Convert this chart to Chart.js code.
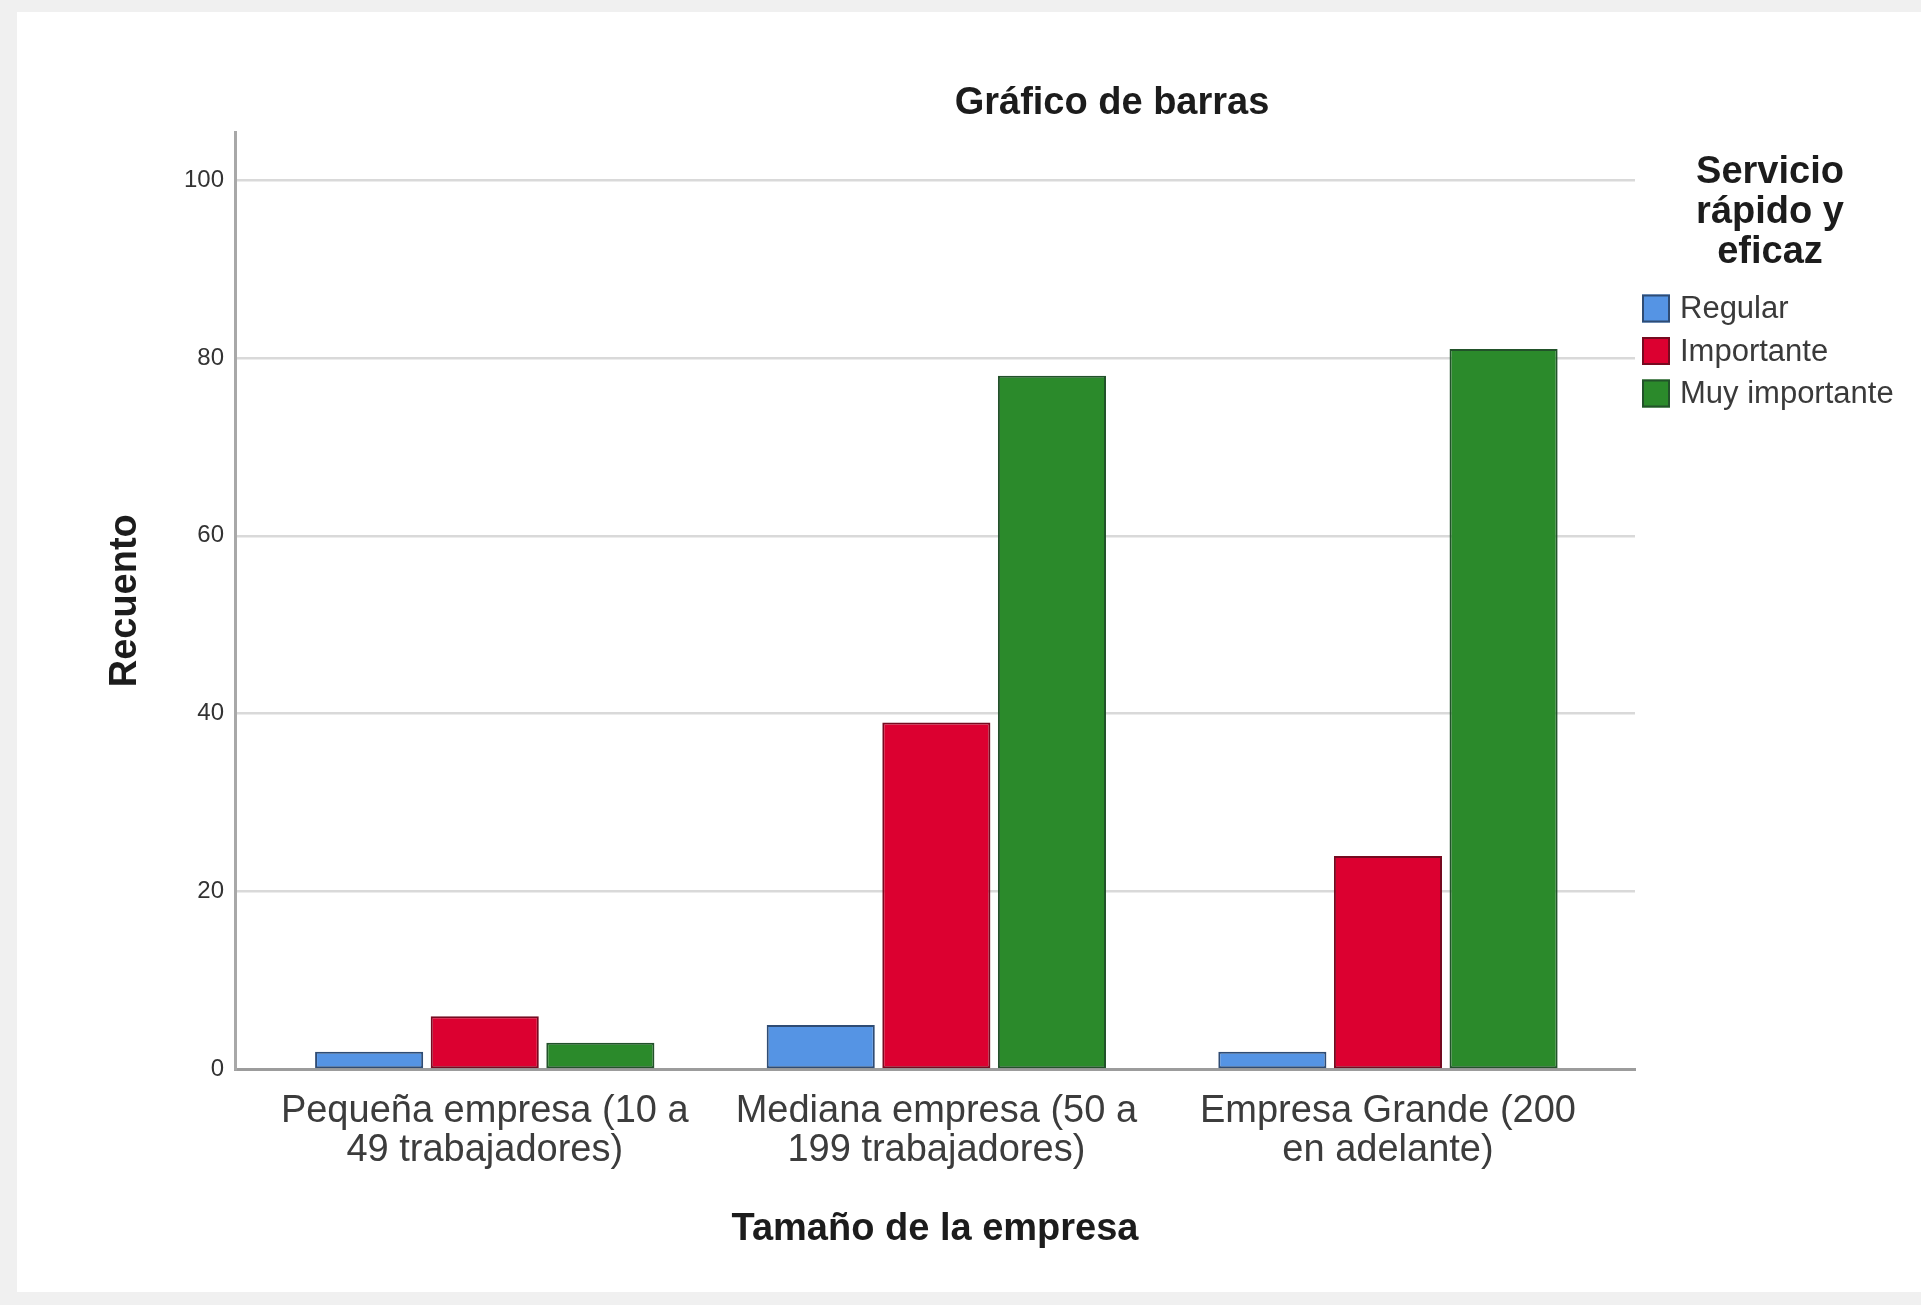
<!DOCTYPE html>
<html lang="es">
<head>
<meta charset="UTF-8">
<title>Gráfico de barras</title>
<script src="https://cdn.jsdelivr.net/npm/chart.js@4.4.1/dist/chart.umd.min.js"></script>
<style>
    html, body { margin: 0; padding: 0; background: #f0f0f0; }
    #contenedor { position: relative; width: 1921px; height: 1305px; }
</style>
</head>
<body>
<div id="contenedor">
    <canvas id="grafico-barras" width="1921" height="1305"></canvas>
</div>
<script>
// Categorías del eje X (tamaño de la empresa), en dos líneas
const categorias = [
    ['Pequeña empresa (10 a', '49 trabajadores)'],
    ['Mediana empresa (50 a', '199 trabajadores)'],
    ['Empresa Grande (200', 'en adelante)']
];

// Recuento por respuesta de "Servicio rápido y eficaz"
const series = ['Regular', 'Importante', 'Muy importante'];
const regular = [2, 5, 2];
const importante = [6, 39, 24];
const muyImportante = [3, 78, 81];

// Marcas del eje Y
const ticksY = [0, 20, 40, 60, 80, 100];

const fuente = "'Liberation Sans', Arial, sans-serif";
const colores = ['#5594e4', '#dc0030', '#2b8a2b'];
const bordes = ['#2f4c74', '#760a20', '#22522a'];

// Construir los datasets a partir de los arrays
const valores = [regular, importante, muyImportante];
const datasets = series.map(function (nombre, s) {
    return {
        label: nombre,
        data: valores[s].map((v, i) => ({ x: i, y: v })),
        backgroundColor: colores[s],
        borderColor: bordes[s],
        borderWidth: 2,
        borderSkipped: false,
        categoryPercentage: 0.768,
        barPercentage: 0.935
    };
});

// Fondo gris con el panel blanco
const pluginFondo = {
    id: 'fondo',
    beforeDraw(chart) {
        const ctx = chart.ctx;
        ctx.save();
        ctx.fillStyle = '#f0f0f0';
        ctx.fillRect(0, 0, chart.width, chart.height);
        ctx.fillStyle = '#ffffff';
        ctx.fillRect(17, 12, chart.width - 17, 1280);
        ctx.restore();
    }
};

// Título del gráfico y leyenda con su título de tres líneas
const pluginTextos = {
    id: 'textos',
    afterDraw(chart) {
        const ctx = chart.ctx;
        ctx.save();
        ctx.textAlign = 'center';
        ctx.textBaseline = 'middle';
        ctx.fillStyle = '#1c1c1c';
        ctx.font = 'bold 38px ' + fuente;
        ctx.fillText('Gráfico de barras', 1112, 104);

        const tituloLeyenda = ['Servicio', 'rápido y', 'eficaz'];
        tituloLeyenda.forEach((linea, i) => ctx.fillText(linea, 1770, 173 + i * 40));

        ctx.textAlign = 'left';
        ctx.font = '31px ' + fuente;
        chart.data.datasets.forEach(function (ds, i) {
            const yc = 308.5 + i * 42.5;
            ctx.fillStyle = ds.backgroundColor;
            ctx.fillRect(1642, yc - 14, 28, 28);
            ctx.strokeStyle = ds.borderColor;
            ctx.lineWidth = 2;
            ctx.strokeRect(1643, yc - 13, 26, 26);
            ctx.fillStyle = '#3a3a3a';
            ctx.fillText(ds.label, 1680, yc + 1);
        });
        ctx.restore();
    }
};

new Chart(document.getElementById('grafico-barras').getContext('2d'), {
    type: 'bar',
    data: { datasets: datasets },
    plugins: [pluginFondo, pluginTextos],
    options: {
        responsive: false,
        animation: false,
        events: [],
        layout: { padding: { left: 0, top: 132, right: 286, bottom: 13 } },
        plugins: {
            legend: { display: false },
            title: { display: false },
            tooltip: { enabled: false }
        },
        scales: {
            x: {
                type: 'linear',
                offset: false,
                min: -0.553,
                max: 2.547,
                afterBuildTicks: function (eje) {
                    eje.ticks = categorias.map((c, i) => ({ value: i }));
                },
                afterFit: function (eje) { eje.height = 222.5; },
                ticks: {
                    callback: (v) => categorias[v],
                    font: { family: fuente, size: 38, lineHeight: 1.03 },
                    color: '#3c3c3c',
                    padding: 22,
                    maxRotation: 0,
                    autoSkip: false
                },
                grid: { display: false, drawTicks: false, offset: false },
                border: { display: true, color: '#9c9c9c', width: 3 },
                title: {
                    display: true,
                    text: 'Tamaño de la empresa',
                    font: { family: fuente, size: 38, weight: 'bold', lineHeight: 1.2 },
                    color: '#1c1c1c',
                    padding: { top: 0, bottom: 40 }
                }
            },
            y: {
                min: 0,
                max: 105.4,
                afterBuildTicks: function (eje) {
                    eje.ticks = ticksY.map(v => ({ value: v }));
                },
                afterFit: function (eje) { eje.width = 235; },
                ticks: {
                    font: { family: fuente, size: 24 },
                    color: '#333333',
                    padding: 11
                },
                grid: { color: '#d9d9d9', lineWidth: 2.5, drawTicks: false },
                border: { display: true, color: '#a8a8a8', width: 3 },
                title: {
                    display: true,
                    text: 'Recuento',
                    font: { family: fuente, size: 38, weight: 'bold', lineHeight: 1.2 },
                    color: '#1c1c1c',
                    padding: { top: 103, bottom: 0 }
                }
            }
        }
    }
});
</script>
</body>
</html>
